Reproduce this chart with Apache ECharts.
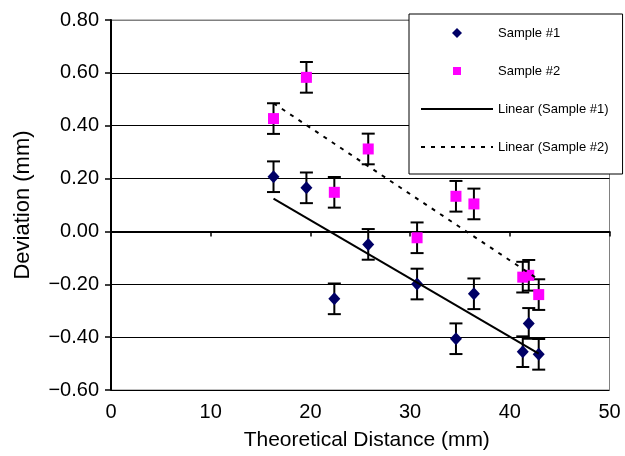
<!DOCTYPE html>
<html>
<head>
<meta charset="utf-8">
<script src="https://cdn.jsdelivr.net/npm/echarts@6/dist/echarts.min.js"></script>
<style>html,body{margin:0;padding:0;background:#fff}#c{width:625px;height:456px}</style>
</head>
<body>
<div id="c"></div>
<script>
// Theoretical distance (mm), shared by both samples
var distance = [16.3, 19.6, 22.4, 25.8, 30.7, 34.6, 36.4, 41.3, 41.9, 42.9];
// Deviation (mm)
var sample1 = [0.207, 0.165, -0.255, -0.049, -0.199, -0.406, -0.236, -0.455, -0.348, -0.465];
var sample2 = [0.427, 0.583, 0.148, 0.312, -0.024, 0.133, 0.104, -0.173, -0.166, -0.239];
// Error bar half-width (mm)
var errorAmount = 0.058;
// Linear trend line end points [x, y]
var trend1 = [[16.3, 0.124], [42.9, -0.462]];
var trend2 = [[16.3, 0.485], [42.9, -0.182]];
// Axis ticks
var xTicks = {min: 0, max: 50, step: 10};
var yTicks = {min: -0.6, max: 0.8, step: 0.2};
var seriesNames = ['Sample #1', 'Sample #2', 'Linear (Sample #1)', 'Linear (Sample #2)'];

var FONT = 'Liberation Sans, Arial, Helvetica, sans-serif';

function pairs(xs, ys) { return xs.map(function (x, i) { return [x, ys[i]]; }); }
function errData(xs, ys) { return xs.map(function (x, i) { return [x, ys[i] - errorAmount, ys[i] + errorAmount]; }); }

function renderErr(params, api) {
  var x = api.value(0);
  var lo = api.coord([x, api.value(1)]);
  var hi = api.coord([x, api.value(2)]);
  var hw = 6.5;
  var st = {stroke: '#000', lineWidth: 2};
  return {
    type: 'group',
    children: [
      {type: 'line', shape: {x1: lo[0], y1: lo[1], x2: hi[0], y2: hi[1]}, style: st},
      {type: 'line', shape: {x1: lo[0] - hw, y1: lo[1], x2: lo[0] + hw, y2: lo[1]}, style: st},
      {type: 'line', shape: {x1: hi[0] - hw, y1: hi[1], x2: hi[0] + hw, y2: hi[1]}, style: st}
    ]
  };
}

var chart = echarts.init(document.getElementById('c'), null, {renderer: 'canvas'});
chart.setOption({
  animation: false,
  backgroundColor: '#fff',
  textStyle: {fontFamily: FONT},
  grid: {left: 111, right: 15.5, top: 20, bottom: 63.3, show: true, borderColor: '#808080', borderWidth: 1},
  legend: {
    orient: 'vertical',
    left: 409, top: 14,
    padding: [12.5, 14, 20.5, 11],
    itemWidth: 72, itemHeight: 10, itemGap: 25,
    backgroundColor: '#fff', borderColor: '#000', borderWidth: 1,
    textStyle: {fontFamily: FONT, fontSize: 13, color: '#000'},
    data: [
      {name: seriesNames[0], icon: 'path://M0,-1L1,0L0,1L-1,0Z'},
      {name: seriesNames[1], icon: 'path://M-1,-1M1,1M-0.8,-0.8L0.8,-0.8L0.8,0.8L-0.8,0.8Z'},
      {name: seriesNames[2], itemStyle: {opacity: 0}},
      {name: seriesNames[3], itemStyle: {opacity: 0}}
    ]
  },
  xAxis: {
    type: 'value', min: xTicks.min, max: xTicks.max, interval: xTicks.step,
    name: 'Theoretical Distance (mm)', nameLocation: 'middle', nameGap: 40,
    nameTextStyle: {fontFamily: FONT, fontSize: 21, color: '#000', padding: [0, 0, 0, 13]},
    axisLine: {lineStyle: {color: '#000', width: 2}},
    axisTick: {show: true, inside: false, length: 5, lineStyle: {color: '#000', width: 1.5}},
    axisLabel: {fontFamily: FONT, fontSize: 20, color: '#000', margin: 12},
    splitLine: {show: false}
  },
  yAxis: {
    type: 'value', min: yTicks.min, max: yTicks.max, interval: yTicks.step,
    name: 'Deviation (mm)', nameLocation: 'middle', nameGap: 77,
    nameTextStyle: {fontFamily: FONT, fontSize: 22, color: '#000'},
    axisLine: {lineStyle: {color: '#000', width: 2}},
    axisTick: {show: true, inside: false, length: 6, lineStyle: {color: '#000', width: 1.5}},
    axisLabel: {
      fontFamily: FONT, fontSize: 20, color: '#000', margin: 12,
      formatter: function (v) {
        if (Math.abs(v) < 1e-9) return '0.00';
        return (v < 0 ? '\u2212' : '') + Math.abs(v).toFixed(2);
      }
    },
    splitLine: {show: true, lineStyle: {color: ['#000', '#000', '#000', '#000', '#000', '#000', '#000', '#808080'], width: 1}}
  },
  series: [
    {
      name: 'err1', type: 'custom', renderItem: renderErr, z: 1,
      encode: {x: 0, y: [1, 2]}, data: errData(distance, sample1), silent: true
    },
    {
      name: 'err2', type: 'custom', renderItem: renderErr, z: 1,
      encode: {x: 0, y: [1, 2]}, data: errData(distance, sample2), silent: true
    },
    {
      name: seriesNames[0], type: 'scatter', symbol: 'diamond', symbolSize: [12, 13], z: 3,
      itemStyle: {color: '#000066', opacity: 1}, data: pairs(distance, sample1)
    },
    {
      name: seriesNames[1], type: 'scatter', symbol: 'rect', symbolSize: 11, z: 3,
      itemStyle: {color: '#ff00ff', opacity: 1}, data: pairs(distance, sample2)
    },
    {
      name: seriesNames[2], type: 'line', symbol: 'none', z: 4,
      lineStyle: {color: '#000', width: 2, type: 'solid'}, itemStyle: {color: 'rgba(0,0,0,0)'},
      data: trend1
    },
    {
      name: seriesNames[3], type: 'line', symbol: 'none', z: 4,
      lineStyle: {color: '#000', width: 2, type: [4, 6]}, itemStyle: {color: 'rgba(0,0,0,0)'},
      data: trend2
    }
  ]
});
</script>
</body>
</html>
